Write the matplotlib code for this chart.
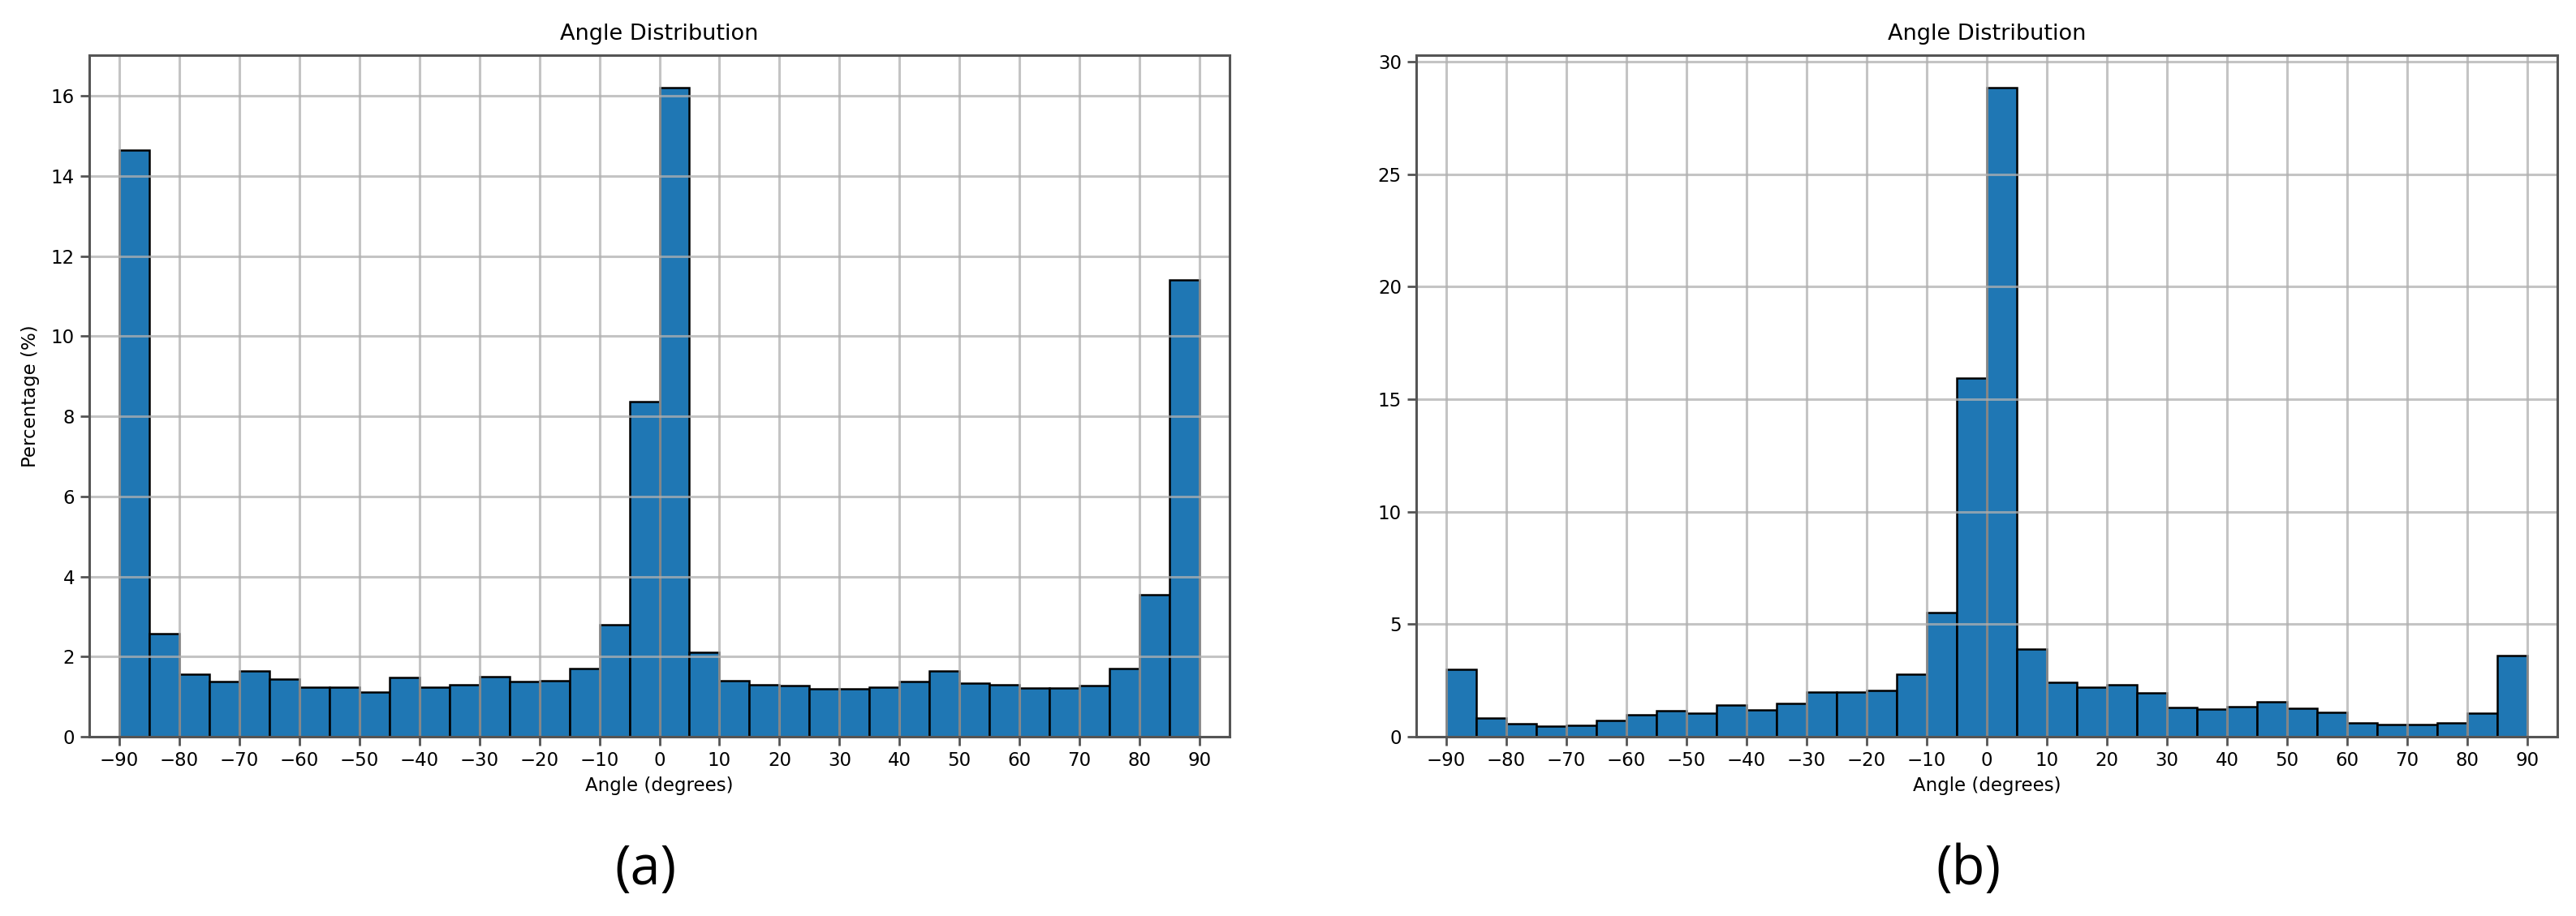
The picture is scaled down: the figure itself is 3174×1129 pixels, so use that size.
import numpy as np
import matplotlib.pyplot as plt

# 5-degree bins from -90 to 90
bin_edges = np.arange(-90, 91, 5)

# (a) percentage per bin
pct_a = [14.65, 2.58, 1.56, 1.37, 1.64, 1.43, 1.24, 1.24, 1.11, 1.48, 1.24, 1.30,
         1.49, 1.38, 1.40, 1.70, 2.80, 8.36, 16.21, 2.10, 1.40, 1.30, 1.27, 1.19,
         1.19, 1.24, 1.38, 1.64, 1.33, 1.30, 1.22, 1.22, 1.27, 1.70, 3.55, 11.41]

# (b) percentage per bin
pct_b = [3.00, 0.83, 0.57, 0.46, 0.50, 0.72, 0.98, 1.16, 1.05, 1.40, 1.20, 1.49,
         1.97, 1.97, 2.04, 2.76, 5.51, 15.95, 28.84, 3.89, 2.43, 2.19, 2.32, 1.93,
         1.29, 1.23, 1.33, 1.55, 1.27, 1.07, 0.63, 0.55, 0.55, 0.63, 1.03, 3.61]

xticks = np.arange(-90, 91, 10)
panel_labels = ["(a)", "(b)"]

W, H = 3174, 1129
fig = plt.figure(figsize=(W / 100, H / 100), dpi=100)

axes_px = [(110, 1515), (1745, 3151)]
top, bottom = 68, 908
label_x = [795, 2425]

for i, (vals, (x0, x1)) in enumerate(zip([pct_a, pct_b], axes_px)):
    ax = fig.add_axes([x0 / W, 1 - bottom / H, (x1 - x0) / W, (bottom - top) / H])
    ax.hist(bin_edges[:-1], bins=bin_edges, weights=vals,
            color="#1f77b4", edgecolor="black", linewidth=1.8)
    ax.set_xlim(-95, 95)
    ax.set_xticks(xticks)
    ax.grid(True, color="#b0b0b0", linewidth=2.2, alpha=0.75)
    ax.set_title("Angle Distribution", fontsize=19.5, pad=14)
    ax.set_xlabel("Angle (degrees)", fontsize=16.5, labelpad=6)
    if i == 0:
        ax.set_ylabel("Percentage (%)", fontsize=16.5, labelpad=10)
    ax.tick_params(labelsize=16.5, length=8, width=2, color="#555555", pad=5)
    for s in ax.spines.values():
        s.set_color("#555555")
        s.set_linewidth(2.2)
    fig.text(label_x[i] / W, 1 - 1072 / H, panel_labels[i], fontsize=48,
             family="Open Sans", ha="center", va="center")

fig.savefig("out.png", dpi=100)
